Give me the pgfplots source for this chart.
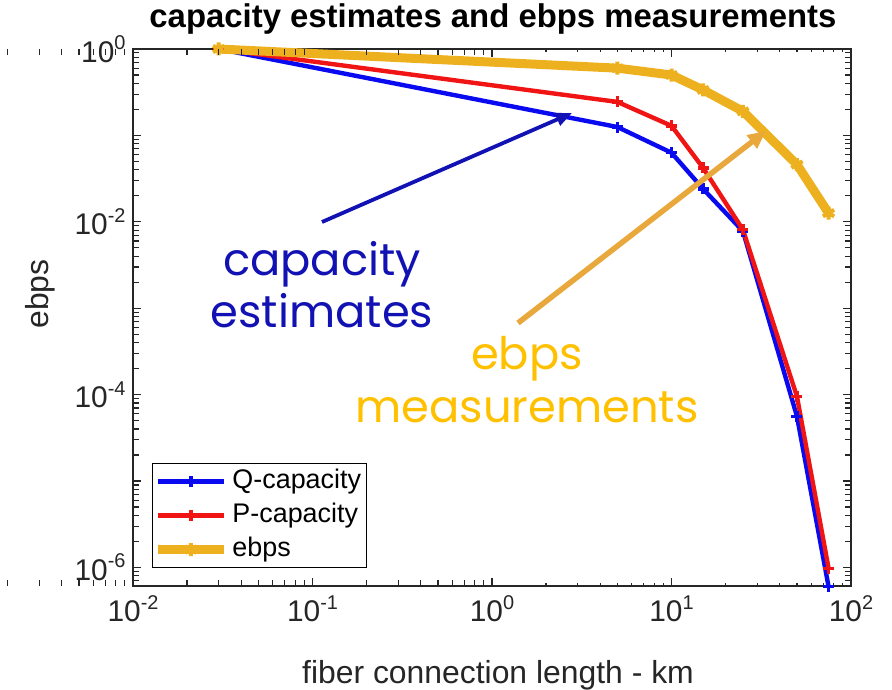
\documentclass[border=0pt]{standalone}
\usepackage{fontspec}
\setmainfont{Liberation Sans}
\newfontfamily\gothic{Poppins}
\usepackage{pgfplots}
\pgfplotsset{compat=1.18}
\usetikzlibrary{arrows.meta}

\definecolor{qblue}{HTML}{0A0AF0}
\definecolor{pred}{HTML}{F01414}
\definecolor{ebpsorange}{HTML}{EDB120}
\definecolor{annblue}{HTML}{1212B4}
\definecolor{annorange}{HTML}{FFC000}
\definecolor{arroworange}{HTML}{E8A83C}
\definecolor{axgray}{HTML}{262626}

% 10^n tick label in text font
\newcommand{\tp}[1]{10\raisebox{0.42em}{\fontsize{20}{20}\selectfont#1}}

\begin{document}
\begin{tikzpicture}[x=1bp,y=1bp]
\useasboundingbox (0,0) rectangle (892,690);
\begin{axis}[
    at={(133bp,104bp)}, anchor=south west,
    scale only axis, width=718bp, height=537bp,
    xmode=log, ymode=log, log basis x=10, log basis y=10,
    xmin=1e-2, xmax=1e2, ymin=6.1e-7, ymax=1,
    xticklabel={\pgfmathtruncatemacro\e{round(\tick)}\tp{\e}},
    % only every second decade is labelled on y
    yticklabel={\pgfmathtruncatemacro\e{round(\tick)}\ifodd\e\else\tp{\e}\fi},
    tick label style={font=\fontsize{30}{32}\selectfont, text=axgray},
    xticklabel style={yshift=-6bp},
    yticklabel style={xshift=-4bp},
    tick align=inside,
    major tick length=8bp,
    axis line style={axgray, line width=1.3bp},
    every tick/.style={axgray, line width=1.1bp},
    clip=false,
    legend style={at={(0.0265,0.0335)}, anchor=south west,
      draw=black, line width=0.9bp,
      font=\fontsize{27}{30}\selectfont,
      inner xsep=1bp, inner ysep=1bp,
      nodes={inner sep=4bp, text height=20bp, text depth=6bp},
      cells={anchor=west}},
    legend image code/.code={
      \draw[mark repeat=2,mark phase=2,#1]
        plot coordinates {(0bp,0bp) (33bp,0bp) (66bp,0bp)};},
  ]
  \addplot[qblue, line width=4.4bp, mark=+, mark size=5.5bp,
           mark options={line width=3.4bp}]
    coordinates {(0.03,1) (5,0.125) (10,0.063) (15,0.024) (25,0.0078)
                 (50,5.6e-5) (75,6e-7)};
  \addplot[pred, line width=4.4bp, mark=+, mark size=5.5bp,
           mark options={line width=3.4bp}]
    coordinates {(0.03,1) (5,0.244) (10,0.129) (15,0.042) (25,0.0081)
                 (50,9.5e-5) (75,9.8e-7)};
  \addplot[ebpsorange, line width=9bp, mark=asterisk, mark size=6.5bp,
           mark options={line width=4bp}]
    coordinates {(0.03,1) (5,0.60) (10,0.50) (15,0.336) (25,0.19)
                 (50,0.046) (75,0.0126)};
  \legend{Q-capacity, P-capacity, ebps}
\end{axis}

% small ticks at 2..9 of each decade (axis box: x 133..851, y 104..641)
\foreach \d in {-2,-1,0,1}{
  \foreach \m in {2,...,9}{
    \pgfmathsetmacro\px{133+179.5*(\d+log10(\m))}
    \draw[axgray, line width=1.1bp] (\px,104) -- (\px,110);
    \draw[axgray, line width=1.1bp] (\px,641) -- (\px,635);
  }
}
\foreach \d in {-6,...,-1}{
  \foreach \m in {2,...,9}{
    \pgfmathsetmacro\py{104+86.41*(\d+log10(\m)+6.2147)}
    \draw[axgray, line width=1.1bp] (133,\py) -- (139,\py);
    \draw[axgray, line width=1.1bp] (851,\py) -- (845,\py);
  }
}
\foreach \m in {7,8,9}{
  \pgfmathsetmacro\py{104+86.41*(-7+log10(\m)+6.2147)}
  \draw[axgray, line width=1.1bp] (133,\py) -- (139,\py);
  \draw[axgray, line width=1.1bp] (851,\py) -- (845,\py);
}

% title and axis labels
\node[anchor=base, font=\fontsize{33}{36}\selectfont\bfseries, inner sep=0]
  at (493,662) {capacity estimates and ebps measurements};
\node[anchor=base, font=\fontsize{32}{36}\selectfont, text=axgray, inner sep=0]
  at (498,6) {fiber connection length - km};
\node[rotate=90, font=\fontsize{32}{36}\selectfont, text=axgray, inner sep=0]
  at (40,396) {ebps};

% annotations
\draw[annblue, line width=3.8bp, -{Triangle[length=16bp,width=13bp]}]
  (322,468) -- (572,577);
\draw[arroworange, line width=5.5bp, -{Triangle[length=18bp,width=16bp]}]
  (518,367) -- (766,559);
\node[anchor=base, inner sep=0, text=annblue,
      font=\gothic\fontsize{45}{48}\selectfont] at (322,414) {capacity};
\node[anchor=base, inner sep=0, text=annblue,
      font=\gothic\fontsize{45}{48}\selectfont] at (322,362) {estimates};
\node[anchor=base, inner sep=0, text=annorange,
      font=\gothic\fontsize{45}{48}\selectfont] at (527,320) {ebps};
\node[anchor=base, inner sep=0, text=annorange,
      font=\gothic\fontsize{45}{48}\selectfont] at (527,267) {measurements};
\end{tikzpicture}
\end{document}
